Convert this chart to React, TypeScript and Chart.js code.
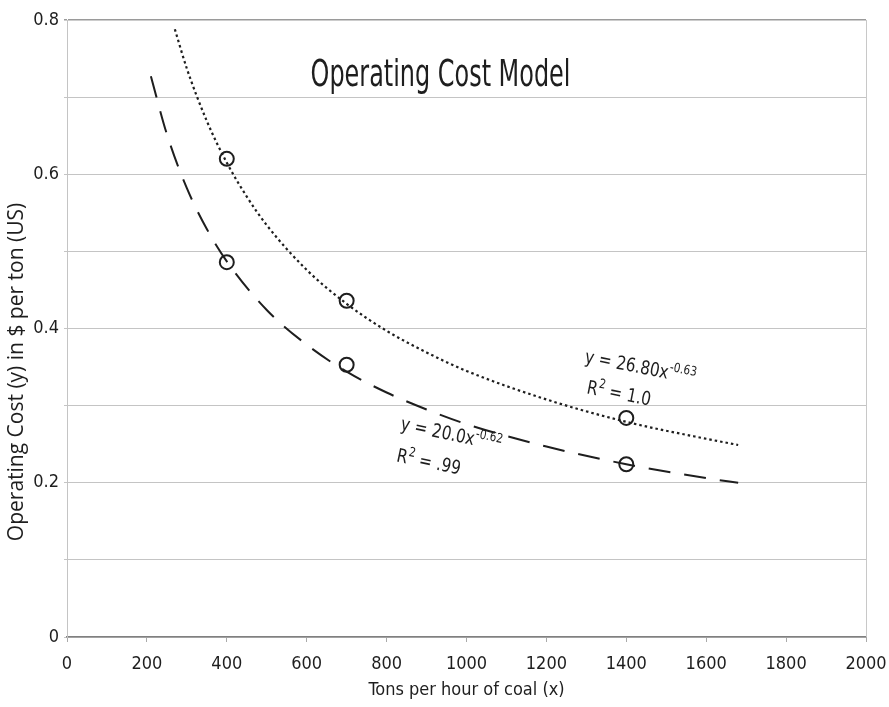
import React, { useEffect, useRef } from "react";
import { Chart, registerables } from "chart.js";

Chart.register(...registerables);

const chartTitle = "Operating Cost Model";
const xAxisTitle = "Tons per hour of coal (x)";
const yAxisTitle = "Operating Cost (y) in $ per ton (US)";

const xMin = 0;
const xMax = 2000;
const xStep = 200;
const yMin = 0;
const yMax = 0.8;
const yStep = 0.1;

// dotted fitted curve: y = 26.80x^-0.63
const dottedX = [270, 300, 350, 400, 450, 500, 600, 700, 800, 900, 1000, 1200, 1400, 1600, 1680];
const dottedY = [0.788, 0.737, 0.669, 0.615, 0.571, 0.534, 0.476, 0.432, 0.397, 0.369, 0.345, 0.308, 0.279, 0.257, 0.249];

// dashed fitted curve: y = 20.0x^-0.62
const dashedX = [210, 250, 300, 350, 400, 500, 600, 700, 800, 900, 1000, 1200, 1400, 1600, 1680];
const dashedY = [0.727, 0.652, 0.582, 0.529, 0.487, 0.424, 0.379, 0.344, 0.317, 0.295, 0.276, 0.247, 0.224, 0.206, 0.2];

// observed points (circles)
const sampleX = [400, 700, 1400];
const dottedSamples = [0.62, 0.436, 0.284];
const dashedSamples = [0.486, 0.353, 0.224];

const eq1Line1 = [{ t: "y = 26.80x" }, { t: "-0.63", sup: true }];
const eq1Line2 = [{ t: "R" }, { t: "2", sup: true }, { t: " = 1.0" }];
const eq2Line1 = [{ t: "y = 20.0x" }, { t: "-0.62", sup: true }];
const eq2Line2 = [{ t: "R" }, { t: "2", sup: true }, { t: " = .99" }];

const NARROW = "'DejaVu Sans Condensed', 'Liberation Sans Narrow', sans-serif";
const INK = "#1e1e1e";

function toPts(xs: number[], ys: number[]) {
  return xs.map((x, i) => ({ x, y: ys[i] }));
}

function drawParts(ctx: CanvasRenderingContext2D, x: number, y: number, angleDeg: number, parts: { t: string; sup?: boolean }[], size: number, squeeze: number) {
  ctx.save();
  ctx.translate(x, y);
  ctx.rotate((angleDeg * Math.PI) / 180);
  ctx.scale(squeeze, 1);
  ctx.textBaseline = "alphabetic";
  ctx.textAlign = "left";
  ctx.fillStyle = INK;
  let cx = 0;
  for (const p of parts) {
    const s = p.sup ? Math.round(size * 0.68) : size;
    ctx.font = `${s}px ${NARROW}`;
    const dy = p.sup ? -size * 0.42 : 0;
    ctx.fillText(p.t, cx, dy);
    cx += ctx.measureText(p.t).width + (p.sup ? 0 : 0.5);
  }
  ctx.restore();
}

const annotationPlugin = {
  id: "annotations",
  afterDatasetsDraw(chart: any) {
    const ctx: CanvasRenderingContext2D = chart.ctx;
    const xs = chart.scales.x;
    const ys = chart.scales.y;
    const area = chart.chartArea;
    ctx.save();
    // right frame line
    ctx.strokeStyle = "#c8c8c8";
    ctx.lineWidth = 1;
    ctx.beginPath();
    ctx.moveTo(Math.round(area.right) + 0.5, area.top);
    ctx.lineTo(Math.round(area.right) + 0.5, area.bottom);
    ctx.stroke();

    // chart title inside plot (condensed)
    ctx.save();
    ctx.translate(xs.getPixelForValue(935), ys.getPixelForValue(0.714));
    ctx.scale(0.7, 1);
    ctx.fillStyle = INK;
    ctx.font = `38px ${NARROW}`;
    ctx.textAlign = "center";
    ctx.textBaseline = "alphabetic";
    ctx.fillText(chartTitle, 0, 0);
    ctx.restore();

    // equations
    const ang = 11;
    drawParts(ctx, xs.getPixelForValue(1294), ys.getPixelForValue(0.356), ang, eq1Line1, 19, 0.9);
    drawParts(ctx, xs.getPixelForValue(1299), ys.getPixelForValue(0.316), ang, eq1Line2, 19, 0.9);
    drawParts(ctx, xs.getPixelForValue(833), ys.getPixelForValue(0.269), ang + 1, eq2Line1, 19, 0.9);
    drawParts(ctx, xs.getPixelForValue(823), ys.getPixelForValue(0.228), ang + 1, eq2Line2, 19, 0.9);

    // y axis title
    ctx.save();
    ctx.translate(17, 372);
    ctx.rotate(-Math.PI / 2);
    ctx.font = `21px 'Open Sans', 'DejaVu Sans', sans-serif`;
    ctx.textAlign = "center";
    ctx.textBaseline = "middle";
    ctx.fillStyle = INK;
    ctx.fillText(yAxisTitle, 0, 0);
    ctx.restore();
    ctx.restore();
  },
};

export default function App() {
  const ref = useRef<HTMLCanvasElement | null>(null);

  useEffect(() => {
    document.body.style.margin = "0";
    if (!ref.current) return;
    const chart = new Chart(ref.current, {
      type: "scatter",
      data: {
        datasets: [
          {
            label: "dotted fit",
            data: toPts(dottedX, dottedY),
            showLine: true,
            borderColor: INK,
            borderWidth: 2.2,
            borderDash: [2.5, 3],
            pointRadius: 0,
            cubicInterpolationMode: "monotone",
            fill: false,
          },
          {
            label: "dashed fit",
            data: toPts(dashedX, dashedY),
            showLine: true,
            borderColor: INK,
            borderWidth: 2,
            borderDash: [22, 14],
            pointRadius: 0,
            cubicInterpolationMode: "monotone",
            fill: false,
          },
          {
            label: "dotted samples",
            data: toPts(sampleX, dottedSamples),
            showLine: false,
            pointStyle: "circle",
            pointRadius: 7,
            pointBorderWidth: 2,
            pointBorderColor: INK,
            pointBackgroundColor: "rgba(0,0,0,0)",
          },
          {
            label: "dashed samples",
            data: toPts(sampleX, dashedSamples),
            showLine: false,
            pointStyle: "circle",
            pointRadius: 7,
            pointBorderWidth: 2,
            pointBorderColor: INK,
            pointBackgroundColor: "rgba(0,0,0,0)",
          },
        ],
      },
      options: {
        responsive: false,
        animation: false,
        devicePixelRatio: 1,
        layout: { padding: { top: 20, right: 23, left: 0, bottom: 0 } },
        plugins: {
          legend: { display: false },
          tooltip: { enabled: false },
          title: { display: false },
        },
        scales: {
          x: {
            type: "linear",
            min: xMin,
            max: xMax,
            afterFit: (s: any) => {
              s.height = 70;
              s.paddingLeft = 0;
              s.paddingRight = 0;
            },
            ticks: {
              stepSize: xStep,
              color: INK,
              font: { family: NARROW, size: 18 },
              padding: 12,
              maxRotation: 0,
              callback: (v: any) => String(v),
            },
            grid: {
              drawOnChartArea: false,
              drawTicks: true,
              tickLength: 5,
              color: "#aaaaaa",
            },
            border: { display: true, color: "#808080", width: 1.5 },
            title: {
              display: true,
              text: xAxisTitle,
              color: INK,
              font: { family: NARROW, size: 18 },
              padding: { top: 2, bottom: 6 },
            },
          },
          y: {
            type: "linear",
            min: yMin,
            max: yMax,
            afterFit: (s: any) => {
              s.width = 67;
              s.paddingTop = 0;
              s.paddingBottom = 0;
            },
            ticks: {
              stepSize: yStep,
              color: INK,
              font: { family: NARROW, size: 18 },
              padding: 5,
              callback: (v: any) => {
                const n = Math.round(Number(v) * 10);
                if (n % 2 !== 0) return "";
                return n === 0 ? "0" : (n / 10).toFixed(1);
              },
            },
            grid: {
              drawTicks: true,
              tickLength: 3,
              color: (c: any) => (c.tick && Math.abs(c.tick.value - yMax) < 1e-6 ? "#9a9a9a" : "#c4c4c4"),
              lineWidth: (c: any) => (c.tick && Math.abs(c.tick.value - yMax) < 1e-6 ? 1.5 : 1),
            },
            border: { display: true, color: "#c4c4c4", width: 1 },
          },
        },
      },
      plugins: [annotationPlugin],
    } as any);
    return () => chart.destroy();
  }, []);

  return (
    <div style={{ position: "absolute", left: 0, top: 0, width: 889, height: 707 }}>
      <canvas ref={ref} width={889} height={707} style={{ width: 889, height: 707, display: "block" }} />
    </div>
  );
}
